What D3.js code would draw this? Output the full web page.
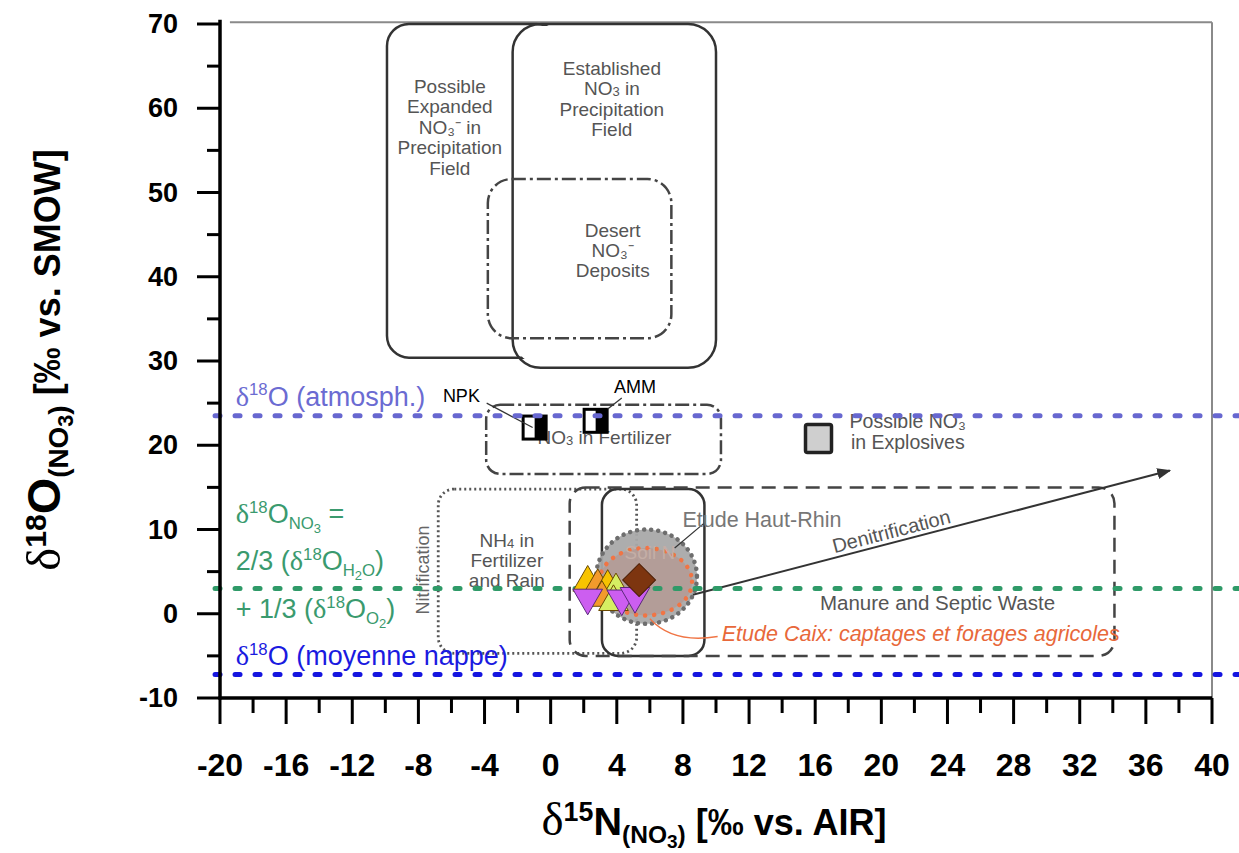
<!DOCTYPE html>
<html><head><meta charset="utf-8">
<script src="https://cdn.jsdelivr.net/npm/d3@7"></script>
<style>
body{margin:0;background:#fff}
svg{display:block}
text{font-family:"Liberation Sans",Arial,sans-serif}
</style>
</head><body>
<svg id="c" width="1239" height="853"></svg>
<script>
// ---------- data ----------
const xTicks = [-20,-16,-12,-8,-4,0,4,8,12,16,20,24,28,32,36,40];
const yTicks = [-10,0,10,20,30,40,50,60,70];

// source fields (‰): extents
const fieldNames = ["expanded","established","desert","fertNO3","nh4","soilN","manure"];
const fieldX0 = [-9.9, -2.3, -3.8, -3.9, -6.8, 3.1, 1.15];
const fieldX1 = [ 0.5, 10.0,  7.3, 10.3,  5.2, 9.3, 34.1];
const fieldY0 = [30.4, 29.2, 32.7, 16.6, -4.7, -5.0, -5.0];
const fieldY1 = [70.0, 70.0, 51.6, 24.8, 14.8, 14.8, 15.0];

// reference δ18O lines
const refNames = ["atmosph","mix","nappe"];
const refY = [23.5, 3.0, -7.2];

// fertilizer end-members
const fertNames = ["NPK","AMM"];
const fertX = [-0.97, 2.72];
const fertY = [22.1, 22.9];

// explosives
const explX = [16.2];
const explY = [20.8];

// study areas (centre & half-widths, ‰)
const studyNames = ["hautRhin","caix"];
const studyCX = [5.8, 5.75];
const studyCY = [4.4, 3.8];
const studyRX = [3.05, 2.8];
const studyRY = [5.6, 4.0];

// Caix samples – up triangles
const upX = [2.24, 2.85, 3.45, 3.95, 3.1, 3.8];
const upY = [3.7, 3.3, 3.2, 2.8, 1.9, 1.4];
const upKind = ["gold","orange","gold","lime","orange","lime"];
// Caix samples – down triangles
const downX = [2.24, 4.3, 5.1];
const downY = [1.9, 1.8, 2.1];
// Haut-Rhin mean – diamond
const diaX = [5.35];
const diaY = [4.0];

// denitrification vector
const denitX = [8.6, 37.45];
const denitY = [2.25, 17.0];

// ---------- drawing ----------
const svg = d3.select("#c");
const x = d3.scaleLinear().domain([-20,40]).range([220,1212]);
const y = d3.scaleLinear().domain([-10,70]).range([698,24]);

const defs = svg.append("defs");
defs.append("marker").attr("id","arr").attr("viewBox","0 0 10 10").attr("refX",9).attr("refY",5)
  .attr("markerWidth",7).attr("markerHeight",7).attr("orient","auto")
  .append("path").attr("d","M0,1 L10,5 L0,9 Z").attr("fill","#333");

// frame (top/right light)
svg.append("line").attr("x1",x(-19.4)).attr("x2",x(40)).attr("y1",y(70.2)).attr("y2",y(70.2))
  .attr("stroke","#8a8a8a").attr("stroke-width",2);
svg.append("line").attr("x1",x(40)).attr("x2",x(40)).attr("y1",y(70.2)).attr("y2",y(-10))
  .attr("stroke","#8a8a8a").attr("stroke-width",2);

// fields
const fieldStyle = {
  expanded:   {dash:null, w:2.5, c:"#333"},
  established:{dash:null, w:2.5, c:"#333"},
  desert:     {dash:"14,4,3,4", w:2.5, c:"#444"},
  fertNO3:    {dash:"14,4,3,4", w:2.5, c:"#444"},
  nh4:        {dash:"2,3", w:2.8, c:"#555"},
  soilN:      {dash:null, w:2.5, c:"#333"},
  manure:     {dash:"14,8", w:2.5, c:"#444"}
};
const fieldR = {expanded:22,established:28,desert:24,fertNO3:14,nh4:16,soilN:16,manure:16};
const iEst = fieldNames.indexOf("established");
// mask: expanded field is hidden inside the established field
const mk = defs.append("mask").attr("id","outsideEst").attr("maskUnits","userSpaceOnUse")
  .attr("x",0).attr("y",0).attr("width",1239).attr("height",853);
mk.append("rect").attr("width",1239).attr("height",853).attr("fill","#fff");
mk.append("rect").attr("x",x(fieldX0[iEst])+2).attr("y",y(fieldY1[iEst])+2)
  .attr("width",x(fieldX1[iEst])-x(fieldX0[iEst])-4).attr("height",y(fieldY0[iEst])-y(fieldY1[iEst])-4)
  .attr("rx",fieldR.established).attr("fill","#000");

const gF = svg.append("g");
fieldNames.forEach((n,i)=>{
  const s = fieldStyle[n];
  const r = gF.append("rect")
    .attr("x",x(fieldX0[i])).attr("y",y(fieldY1[i]))
    .attr("width",x(fieldX1[i])-x(fieldX0[i])).attr("height",y(fieldY0[i])-y(fieldY1[i]))
    .attr("rx",fieldR[n]).attr("ry",fieldR[n])
    .attr("fill","none").attr("stroke",s.c).attr("stroke-width",s.w)
    .attr("stroke-dasharray",s.dash);
  if(n==="expanded") r.attr("mask","url(#outsideEst)");
});

// field labels
const lbl = svg.append("g").attr("fill","#555").attr("font-size",19).attr("text-anchor","middle");
function block(lines, cx, cy, lh, fs){
  lines.forEach((l,k)=>{
    const t = lbl.append("text").attr("x",x(cx)).attr("y",y(cy)+k*lh).attr("dominant-baseline","central");
    if(fs) t.attr("font-size",fs);
    l.forEach(p=>{
      const ts = t.append("tspan").text(p[0]);
      if(p[1]==="sub") ts.attr("baseline-shift","-25%").attr("font-size",13);
    });
  });
}
block([[["Possible"]],[["Expanded"]],[["NO\u2083\u207b in"]],[["Precipitation"]],[["Field"]]], -6.1, 62.7, 20.5);
block([[["Established"]],[["NO"],["3","sub"],[" in"]],[["Precipitation"]],[["Field"]]], 3.7, 64.8, 20.5);
block([[["Desert"]],[["NO\u2083\u207b"]],[["Deposits"]]], 3.75, 45.6, 20);
block([[["NH"],["4","sub"],[" in"]],[["Fertilizer"]],[["and Rain"]]], -2.65, 8.75, 20);
block([[["Manure and Septic Waste"]]], 23.4, 1.4, 20, 20.5);
block([[["Possible NO\u2083"]],[["in Explosives"]]], 21.6, 22.9, 21, 19.5);
block([[["NO"],["3","sub"],[" in Fertilizer"]]], 3.25, 21.0, 20);
lbl.append("text").attr("transform",`translate(${x(-7.75)},${y(5.2)}) rotate(-90)`)
  .attr("dominant-baseline","central").attr("fill","#666").attr("font-size",18).text("Nitrification");

// study ellipses
const stStyle = {
  hautRhin:{fill:"#a9a9a9", op:0.95, stroke:"#6e6e6e", dash:"0.1,7", w:4.5},
  caix:{fill:"#b8938a", op:0.6, stroke:"#f07545", dash:"0.1,9", w:4.5}
};
studyNames.forEach((n,i)=>{
  const s = stStyle[n];
  svg.append("ellipse").attr("cx",x(studyCX[i])).attr("cy",y(studyCY[i]))
    .attr("rx",x(studyRX[i])-x(0)).attr("ry",y(0)-y(studyRY[i]))
    .attr("fill",s.fill).attr("fill-opacity",s.op)
    .attr("stroke",s.stroke).attr("stroke-width",s.w).attr("stroke-linecap","round")
    .attr("stroke-dasharray",s.dash);
});
svg.append("text").attr("x",x(6.0)).attr("y",y(7.3)).attr("text-anchor","middle").attr("dominant-baseline","central")
  .attr("font-size",19).attr("fill","#c4aea6").text("Soil N");

// fertilizer squares
const sq = 26;
fertNames.forEach((n,i)=>{
  const cx = x(fertX[i]), cy = y(fertY[i]);
  svg.append("rect").attr("x",cx-sq/2).attr("y",cy-sq/2).attr("width",sq).attr("height",sq).attr("fill","#000");
  svg.append("rect").attr("x",cx-sq/2+3).attr("y",cy-sq/2+3).attr("width",sq/2-3).attr("height",sq-6).attr("fill","#fff");
});
// explosives square
svg.append("rect").attr("x",x(explX[0])-13).attr("y",y(explY[0])-14).attr("width",26).attr("height",28)
  .attr("fill","#cfcfcf").attr("stroke","#222").attr("stroke-width",3.5).attr("rx",2);

// leaders
const lead = svg.append("g").attr("stroke","#333").attr("stroke-width",1.2).attr("fill","none");
lead.append("line").attr("x1",x(-3.87)).attr("y1",y(25.0)).attr("x2",x(-1.09)).attr("y2",y(22.1));
lead.append("line").attr("x1",x(4.3)).attr("y1",y(25.6)).attr("x2",x(3.45)).attr("y2",y(24.3));
lead.append("line").attr("x1",x(9.25)).attr("y1",y(10.7)).attr("x2",x(7.5)).attr("y2",y(7.8));
svg.append("path").attr("fill","none").attr("stroke","#f07545").attr("stroke-width",1.3)
  .attr("d",`M${x(6.0)},${y(-0.6)} Q${x(7.4)},${y(-3.6)} ${x(10.1)},${y(-2.7)}`);

svg.append("text").attr("x",x(-5.4)).attr("y",y(25.1)).attr("text-anchor","middle").attr("font-size",18).text("NPK");
svg.append("text").attr("x",x(5.1)).attr("y",y(26.2)).attr("text-anchor","middle").attr("font-size",18).text("AMM");

// denitrification arrow
svg.append("line").attr("x1",x(denitX[0])).attr("y1",y(denitY[0])).attr("x2",x(denitX[1])).attr("y2",y(denitY[1]))
  .attr("stroke","#333").attr("stroke-width",2).attr("marker-end","url(#arr)");
const ang = Math.atan2(y(denitY[1])-y(denitY[0]), x(denitX[1])-x(denitX[0]))*180/Math.PI;
svg.append("text").attr("transform",`translate(${x(20.6)},${y(9.8)}) rotate(${ang})`)
  .attr("text-anchor","middle").attr("dominant-baseline","central").attr("font-size",20).attr("fill","#555").text("Denitrification");

// reference lines
const refCol = {atmosph:"#6767d0", mix:"#2f9a68", nappe:"#1515e0"};
refNames.forEach((n,i)=>{
  svg.append("line").attr("x1",x(-20.3)).attr("x2",1239).attr("y1",y(refY[i])).attr("y2",y(refY[i]))
    .attr("stroke",refCol[n]).attr("stroke-width",5).attr("stroke-linecap","round").attr("stroke-dasharray","5,15");
});

// Caix samples
const kindCol = {gold:"#f7c300", orange:"#f39a2c", lime:"#d6ee62"};
const tri = d3.symbol().type(d3.symbolTriangle).size(380);
upX.forEach((v,i)=>{
  svg.append("path").attr("d",tri()).attr("transform",`translate(${x(v)},${y(upY[i])})`)
    .attr("fill",kindCol[upKind[i]]).attr("stroke","#6b4a00").attr("stroke-width",1);
});
downX.forEach((v,i)=>{
  svg.append("path").attr("d",tri()).attr("transform",`translate(${x(v)},${y(downY[i])}) rotate(180)`)
    .attr("fill","#cc5ef0").attr("stroke","#5a2a7a").attr("stroke-width",1);
});
const dia = d3.symbol().type(d3.symbolSquare).size(540);
diaX.forEach((v,i)=>{
  svg.append("path").attr("d",dia()).attr("transform",`translate(${x(v)},${y(diaY[i])}) rotate(45)`)
    .attr("fill","#7d3510").attr("stroke","#4a1e05").attr("stroke-width",1);
});

// study labels
svg.append("text").attr("x",x(7.97)).attr("y",y(11.1)).attr("dominant-baseline","central")
  .attr("font-size",21.5).attr("fill","#777").text("Etude Haut-Rhin");
svg.append("text").attr("x",x(10.35)).attr("y",y(-2.4)).attr("dominant-baseline","central")
  .attr("font-size",21.5).attr("font-style","italic").attr("fill","#e8683a").text("Etude Caix: captages et forages agricoles");

// rich text helper: parts [text, kind]; offsets tracked absolutely
function rich(sel, FS, parts){
  const off = {n:0, sup:-0.38, sub:0.22, sub2:0.36};
  const scl = {n:1, sup:0.62, sub:0.62, sub2:0.48};
  let cur = 0;
  parts.forEach(p=>{
    const k = p[1]||"n";
    const ts = sel.append("tspan").text(p[0]).attr("font-size",FS*scl[k]*(p[2]||1));
    const target = off[k]*FS;
    if(target!==cur){ ts.attr("dy",target-cur); cur = target; }
    if(p[3]==="serif") ts.attr("font-family","'Liberation Serif',serif").attr("font-weight","normal");
  });
}
const FS = 27;
function refLabel(by, col, parts){
  const t = svg.append("text").attr("x",x(-19.05)).attr("y",y(by)).attr("fill",col);
  rich(t, FS, parts);
}
const D = ["\u03b4","n",1.05,"serif"];
refLabel(24.7, "#6b6bd2", [D,["18","sup"],["O (atmosph.)"]]);
refLabel(10.77, "#3a9a6e", [D,["18","sup"],["O"],["NO","sub"],["3","sub2"],[" ="]]);
refLabel(5.19, "#3a9a6e", [["2/3 ("],D,["18","sup"],["O"],["H","sub"],["2","sub2"],["O","sub"],[")"]]);
refLabel(-0.5, "#3a9a6e", [["+ 1/3 ("],D,["18","sup"],["O"],["O","sub"],["2","sub2"],[")"]]);
refLabel(-6.1, "#1a1ae0", [D,["18","sup"],["O (moyenne nappe)"]]);

// axes
const ax = svg.append("g");
ax.append("line").attr("x1",x(-20)).attr("x2",x(-20)).attr("y1",y(70.5)).attr("y2",y(-10)+1.5).attr("stroke","#000").attr("stroke-width",3.5);
ax.append("line").attr("x1",x(-20)-1.5).attr("x2",x(40)).attr("y1",y(-10)).attr("y2",y(-10)).attr("stroke","#000").attr("stroke-width",3.5);
d3.range(-10,71,5).forEach(v=>{
  const major = v%10===0;
  ax.append("line").attr("x1",x(-20)).attr("x2",x(-20)-(major?23:13)).attr("y1",y(v)).attr("y2",y(v))
    .attr("stroke","#000").attr("stroke-width",3);
});
d3.range(-20,41,2).forEach(v=>{
  const major = v%4===0;
  ax.append("line").attr("y1",y(-10)).attr("y2",y(-10)+(major?26:15)).attr("x1",x(v)).attr("x2",x(v))
    .attr("stroke","#000").attr("stroke-width",3);
});
yTicks.forEach(v=>{
  ax.append("text").attr("x",x(-20)-42).attr("y",y(v)).attr("text-anchor","end").attr("dominant-baseline","central")
    .attr("font-size",27).attr("font-weight","bold").text(v);
});
xTicks.forEach(v=>{
  ax.append("text").attr("x",x(v)).attr("y",y(-10)+67).attr("text-anchor","middle").attr("dominant-baseline","central")
    .attr("font-family","'Liberation Sans Narrow','Arial Narrow',sans-serif")
    .attr("font-size",32).attr("font-weight","bold").text(v);
});

// axis titles
{
  const t = svg.append("text").attr("x",714).attr("y",835).attr("text-anchor","middle").attr("font-weight","bold");
  rich(t, 36, [["\u03b4","n",1.3,"serif"],["15","sup",1.2],["N","n",1.1],["(NO","sub",1.1],["3","sub2",1.1],[")","sub",1.1],[" [\u2030 vs. AIR]"]]);
}
{
  const t = svg.append("text").attr("transform","translate(60,360) rotate(-90)").attr("text-anchor","middle").attr("font-weight","bold");
  rich(t, 36, [["\u03b4","n",1.35,"serif"],["18","sup",1.35],["O","n",1.3],["(NO","sub",1.25],["3","sub2",1.25],[")","sub",1.25],[" [\u2030 vs. SMOW]"]]);
}
</script>
</body></html>
